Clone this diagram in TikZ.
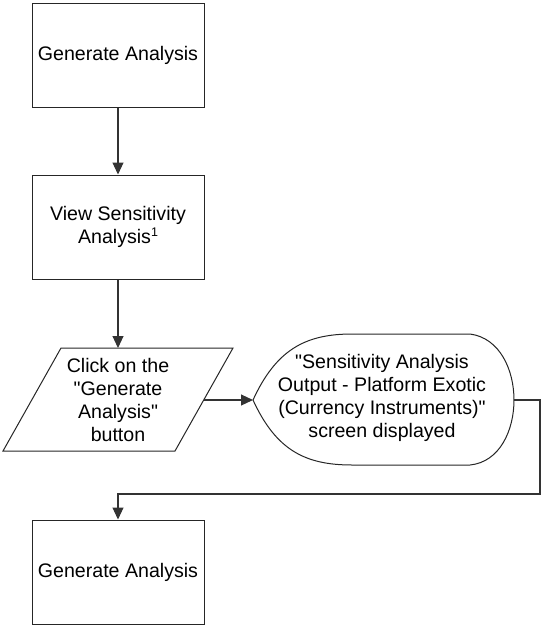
\documentclass[tikz,border=0pt]{standalone}
\usepackage{fontspec}
\setmainfont[Ligatures=TeXOff]{Liberation Sans}
\usetikzlibrary{arrows.meta,calc}
\tikzset{
  box/.style={draw=black!85, line width=1pt, minimum width=172pt, minimum height=104pt, inner sep=0pt, align=center, font=\fontsize{19.6}{22.5}\selectfont},
  txt/.style={inner sep=0pt, align=center, font=\fontsize{19.6}{22.8}\selectfont},
  shp/.style={draw=black!85, line width=1pt},
  conn/.style={draw=black!80, line width=1.1pt, -{Triangle[length=12pt,width=11pt]}}
}
\begin{document}
\begin{tikzpicture}[x=1pt,y=-1pt]
\useasboundingbox (0,0) rectangle (542,625);
\node[box] (b1) at (118,55) {Generate Analysis};
\node[box] (b2) at (118,227) {View Sensitivity\\Analysis\raisebox{6.5pt}{\fontsize{12.5}{12.5}\selectfont 1}};
\node[box] (b3) at (118,572) {Generate Analysis};
% parallelogram
\coordinate (pTL) at (61,348);
\coordinate (pTR) at (233,348);
\coordinate (pBR) at (175,451);
\coordinate (pBL) at (3,451);
\coordinate (pR) at (204,400);
\draw[shp] (pTL) -- (pTR) -- (pBR) -- (pBL) -- cycle;
\node[txt] (p) at (118,400) {Click on the\\"Generate\\Analysis"\\button};
% display shape
\coordinate (dL) at (253,400);
\coordinate (dR) at (514,400);
\draw[shp] (dL) .. controls (276,350) and (305,334) .. (352,334)
  -- (470,334) .. controls (500,338) and (514,370) .. (dR)
  .. controls (514,430) and (500,462) .. (470,465)
  -- (352,465) .. controls (305,465) and (276,450) .. (dL) -- cycle;
\node[txt] (d) at (382,398) {"Sensitivity Analysis\\Output - Platform Exotic\\(Currency Instruments)"\\screen displayed};
% connectors
\draw[conn] (b1.south) -- (b2.north);
\draw[conn] (b2.south) -- (b2.south |- pTL);
\draw[conn] (pR) -- (dL);
\coordinate (turn) at (540,494);
\draw[conn] (dR) -| (turn) -| (b3.north);
\end{tikzpicture}
\end{document}
